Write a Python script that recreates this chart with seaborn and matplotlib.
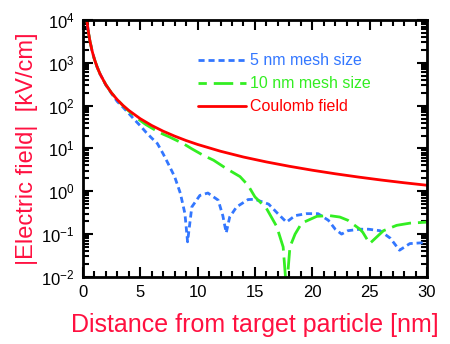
import numpy as np
import pandas as pd
import matplotlib
matplotlib.use("Agg")
import matplotlib.pyplot as plt
from matplotlib.ticker import LogLocator, MultipleLocator, LogFormatterMathtext, NullFormatter
import seaborn as sns

sns.set_style("ticks")
plt.rcParams["font.family"] = ["Liberation Sans", "DejaVu Sans"]
plt.rcParams["mathtext.fontset"] = "custom"
plt.rcParams["mathtext.rm"] = "Liberation Sans"
plt.rcParams["mathtext.it"] = "Liberation Sans"
plt.rcParams["mathtext.default"] = "regular"

# Coulomb field of the target particle [kV/cm] vs distance [nm]
coulomb_x = [0.3, 0.4, 0.5, 0.6, 0.8, 1.0, 1.25, 1.5, 2.0, 2.5, 3.0, 3.5, 4.0, 5.0, 6.0,
             7.0, 8.0, 9.0, 10.0, 12.0, 14.0, 16.0, 18.0, 20.0, 22.0, 24.0, 26.0, 28.0, 30.0]
coulomb_y = [13000, 7750, 4960, 3440, 1940, 1240, 794, 551, 310, 198, 138, 101, 77.5, 49.6, 34.4,
             25.3, 19.4, 15.3, 12.4, 8.6, 6.3, 4.84, 3.83, 3.1, 2.56, 2.15, 1.83, 1.58, 1.38]

# Field computed on a 5 nm mesh
mesh5_x = [0.3, 0.4, 0.5, 0.6, 0.8, 1.0, 1.25, 1.5, 2.0, 2.5, 3.0, 3.5, 4.0, 4.5, 5.0, 5.5,
           6.0, 6.5, 7.0, 7.5, 8.0, 8.5, 8.9, 9.13, 9.5, 10.2, 10.9, 11.8, 12.2, 12.5, 12.8,
           13.4, 14.4, 15.0, 16.2, 17.0, 17.75, 18.5, 19.5, 20.5, 21.4, 22.0, 22.55, 23.1,
           24.15, 24.9, 25.9, 26.8, 27.6, 28.5, 29.7, 30.0]
mesh5_y = [13000, 7750, 4960, 3440, 1940, 1240, 794, 551, 305, 192, 125, 92, 66, 47, 34, 24,
           17.5, 13, 7.5, 4.1, 2.2, 0.9, 0.3, 0.066, 0.43, 0.8, 0.91, 0.62, 0.27, 0.107, 0.25,
           0.43, 0.64, 0.65, 0.5, 0.30, 0.19, 0.27, 0.30, 0.30, 0.21, 0.13, 0.10, 0.12,
           0.13, 0.13, 0.12, 0.08, 0.042, 0.06, 0.063, 0.063]

# Field computed on a 10 nm mesh
mesh10_x = [0.3, 0.4, 0.5, 0.6, 0.8, 1.0, 1.25, 1.5, 2.0, 2.5, 3.0, 3.5, 4.0, 4.5, 5.0, 5.5,
            6.0, 6.5, 7.0, 7.5, 8.0, 8.75, 9.5, 10.5, 11.4, 12.5, 13.7, 14.4, 15.0, 16.0,
            16.9, 17.46, 17.75, 18.05, 18.5, 19.07, 20.4, 21.5, 22.4, 23.1, 24.15, 24.4,
            25.0, 26.2, 27.35, 28.5, 29.95]
mesh10_y = [13000, 7750, 4960, 3440, 1940, 1240, 794, 551, 310, 198, 138, 100, 75, 58, 45, 36,
            30, 25, 21.5, 18.8, 16.2, 13, 9.8, 6.9, 5.3, 3.4, 2.2, 1.38, 0.74, 0.4,
            0.15, 0.05, 0.005, 0.05, 0.10, 0.18, 0.26, 0.27, 0.25, 0.21, 0.13, 0.11,
            0.06, 0.12, 0.16, 0.18, 0.19]

labels = ["5 nm mesh size", "10 nm mesh size", "Coulomb field"]
colors = ["#3377ff", "#33ee22", "#ff0000"]

fig = plt.figure(figsize=(4.5, 3.44), dpi=100)
ax = fig.add_axes([0.184, 0.195, 0.765, 0.747])

sns.lineplot(x=mesh5_x, y=mesh5_y, ax=ax, color=colors[0], linewidth=2.0,
             linestyle=(0, (2.2, 1.4)), label=labels[0], sort=False)
sns.lineplot(x=mesh10_x, y=mesh10_y, ax=ax, color=colors[1], linewidth=2.0,
             linestyle=(4, (7, 2.5)), label=labels[1], sort=False)
sns.lineplot(x=coulomb_x, y=coulomb_y, ax=ax, color=colors[2], linewidth=2.0,
             label=labels[2], sort=False)

ax.set_yscale("log")
ax.set_xlim(0, 30)
ax.set_ylim(1e-2, 1e4)

ax.xaxis.set_major_locator(MultipleLocator(5))
ax.xaxis.set_minor_locator(MultipleLocator(1))
ax.yaxis.set_major_locator(LogLocator(base=10, numticks=10))
ax.yaxis.set_minor_locator(LogLocator(base=10, subs=np.arange(2, 10), numticks=20))
ax.yaxis.set_major_formatter(LogFormatterMathtext())
ax.yaxis.set_minor_formatter(NullFormatter())

ax.tick_params(which="both", direction="in", top=True, right=True, width=1.5,
               colors="black", labelsize=12)
ax.tick_params(which="major", length=7, pad=6)
ax.tick_params(which="minor", length=4)
for s in ax.spines.values():
    s.set_linewidth(2.0)
    s.set_color("black")

ax.set_xlabel("Distance from target particle [nm]", color="#ff1040", fontsize=18, labelpad=9)
ax.set_ylabel("|Electric field|  [kV/cm]", color="#ff1040", fontsize=17, labelpad=2)

leg = ax.legend(loc="upper left", bbox_to_anchor=(0.315, 0.895), frameon=False,
                fontsize=11.5, handlelength=3.0, handletextpad=0.3, labelspacing=0.5,
                borderaxespad=0)
for txt, c in zip(leg.get_texts(), colors):
    txt.set_color(c)

fig.savefig("out.png", dpi=100)
